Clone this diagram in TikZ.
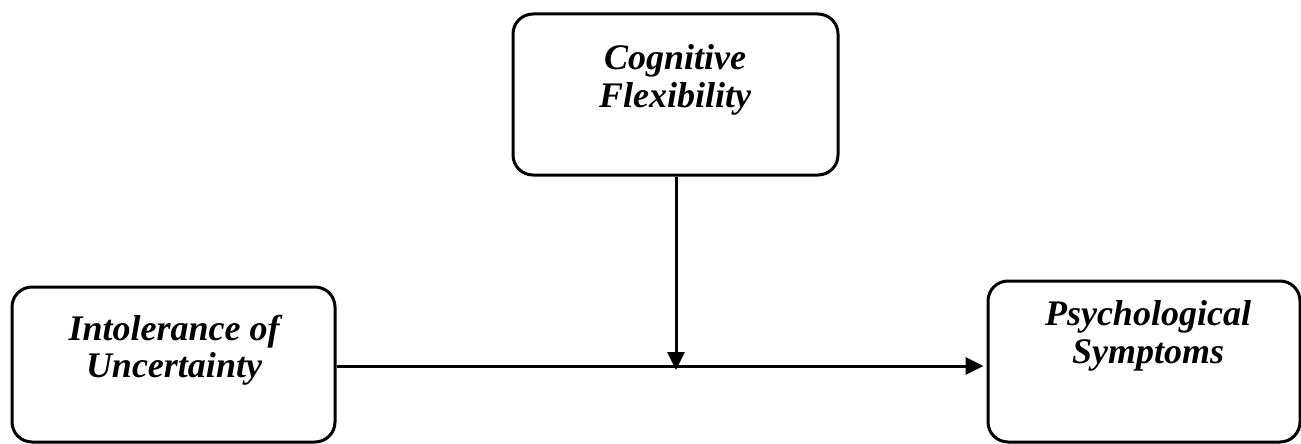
\documentclass[tikz,border=0pt]{standalone}
\usepackage{fontspec}
\setmainfont{Liberation Serif}
\usetikzlibrary{arrows.meta}
\begin{document}
\begin{tikzpicture}[x=1pt,y=-1pt,
  box/.style={draw, line width=3pt, rounded corners=20pt, inner sep=0pt},
  lbl/.style={align=center, font=\fontsize{36}{37.5}\selectfont\bfseries\itshape, inner sep=0pt},
  conn/.style={line width=3pt, -{Triangle[length=18pt,width=17pt]}}]
\useasboundingbox (0,0) rectangle (1301,444);
\node[box, minimum width=323pt, minimum height=155pt] (iu) at (173.5,364.5) {};
\node[box, minimum width=325pt, minimum height=161pt] (cf) at (675.5,94.5) {};
\node[box, minimum width=312pt, minimum height=161pt] (ps) at (1144,361.5) {};
\node[lbl] (iut) at (174,350) {Intolerance of\\Uncertainty};
\node[lbl] (cft) at (675,80) {Cognitive\\Flexibility};
\node[lbl] (pst) at (1148,336) {Psychological\\Symptoms};
\coordinate (mid) at (676,366);
\draw[conn, shorten >=3pt] (iu.east |- mid) -- (ps.west |- mid);
\draw[conn] (cf.south -| mid) -- ([yshift=-4pt]mid);
\end{tikzpicture}
\end{document}
